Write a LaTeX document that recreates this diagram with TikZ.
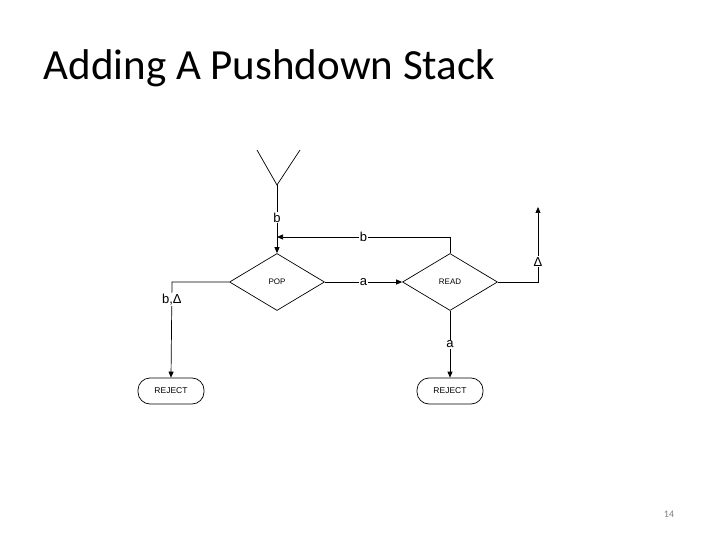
\documentclass[tikz,border=0pt]{standalone}
\usepackage{fontspec}
\setmainfont{Liberation Sans}
\newfontfamily\titlefont{Carlito}
\usetikzlibrary{shapes.geometric,arrows.meta}
\begin{document}
\begin{tikzpicture}[x=1pt,y=-1pt,
  dia/.style={draw,diamond,minimum width=95pt,minimum height=57pt,inner sep=0pt,font=\fontsize{8}{9}\selectfont,aspect=1.67},
  rej/.style={draw,rounded corners=12pt,minimum width=66pt,minimum height=26pt,inner sep=0pt,font=\fontsize{8.5}{9}\selectfont},
  lbl/.style={fill=white,inner sep=1pt,font=\fontsize{13}{14}\selectfont},
  arr/.style={-{Triangle[length=6pt,width=5pt]}},
  line width=0.7pt]
\useasboundingbox (0,0) rectangle (720,540);
\node[anchor=west,font=\titlefont\fontsize{43}{46}\selectfont] (title) at (40,68) {Adding A Pushdown Stack};
\node[font=\titlefont\fontsize{10}{12}\selectfont,gray] (pg) at (669,514) {14};
\node[dia] (pop) at (277,282) {POP};
\node[dia] (read) at (450,282) {READ};
\node[rej] (rej1) at (171,391) {REJECT};
\node[rej] (rej2) at (450,391) {REJECT};
\coordinate (st) at (277,185);
\coordinate (y1) at (257,150);
\coordinate (y2) at (300,150);
\draw (y1) -- (st) -- (y2);
\draw[arr] (st) -- node[lbl,pos=0.48]{b} (pop.north);
\coordinate (fb1) at (450,237);
\coordinate (fb2) at (277,237);
\draw[arr] (read.north) -- (fb1) -- node[lbl]{b} (fb2);
\draw[arr] (pop.east) -- node[lbl]{a} (read.west);
\coordinate (r1) at (538,282);
\coordinate (r2) at (538,207);
\draw[arr] (read.east) -- (r1) -- node[lbl,pos=0.27]{Δ} (r2);
\coordinate (l1) at (172,282);
\draw[arr] (pop.west) -- (l1) -- node[lbl,pos=0.18]{b,Δ} (rej1.north);
\draw[arr] (read.south) -- node[lbl,pos=0.5]{a} (rej2.north);
\end{tikzpicture}
\end{document}
